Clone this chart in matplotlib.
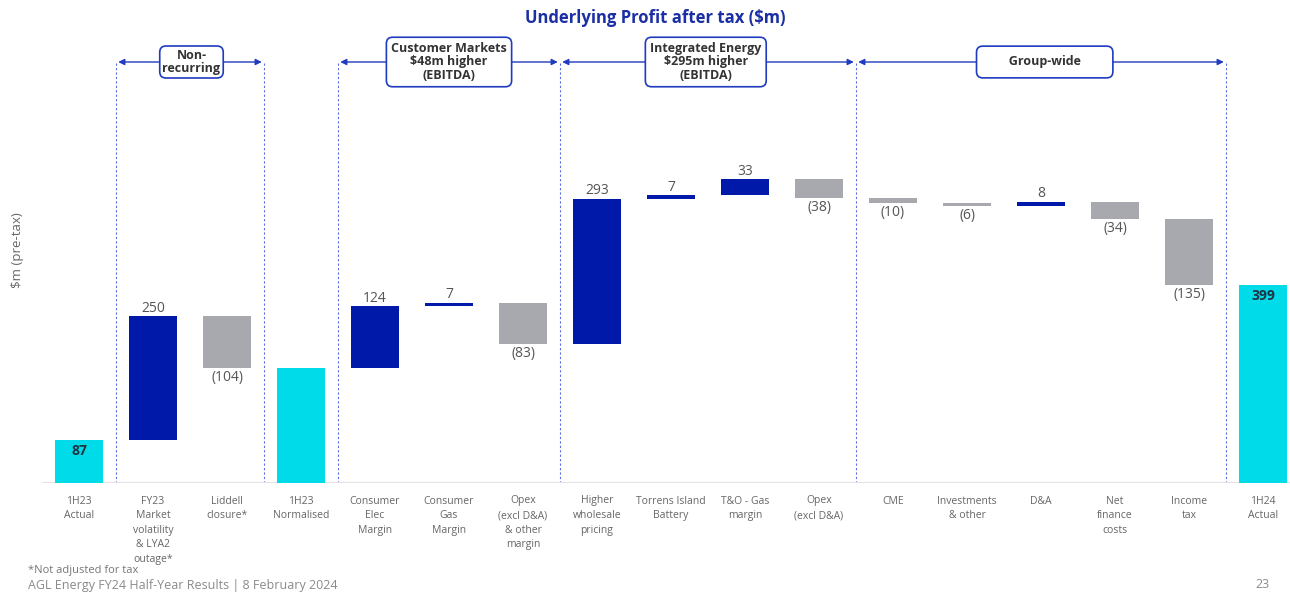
import matplotlib
matplotlib.use("Agg")
import matplotlib.pyplot as plt
import numpy as np

plt.rcParams['font.family'] = ['Open Sans', 'DejaVu Sans']

categories = ["1H23\nActual", "FY23\nMarket\nvolatility\n& LYA2\noutage*", "Liddell\nclosure*",
              "1H23\nNormalised", "Consumer\nElec\nMargin", "Consumer\nGas\nMargin",
              "Opex\n(excl D&A)\n& other\nmargin", "Higher\nwholesale\npricing",
              "Torrens Island\nBattery", "T&O - Gas\nmargin", "Opex\n(excl D&A)", "CME",
              "Investments\n& other", "D&A", "Net\nfinance\ncosts", "Income\ntax", "1H24\nActual"]
values = [87, 250, -104, 233, 124, 7, -83, 293, 7, 33, -38, -10, -6, 8, -34, -135, 399]
kinds = ["total", "delta", "delta", "total", "delta", "delta", "delta", "delta", "delta",
         "delta", "delta", "delta", "delta", "delta", "delta", "delta", "total"]
value_labels = ["87", "250", "(104)", "", "124", "7", "(83)", "293", "7", "33", "(38)",
                "(10)", "(6)", "8", "(34)", "(135)", "399"]
# groups: (index after which left divider sits, index after which right divider sits, text)
groups = [(0, 2, "Non-\nrecurring"),
          (3, 6, "Customer Markets\n$48m higher\n(EBITDA)"),
          (6, 10, "Integrated Energy\n$295m higher\n(EBITDA)"),
          (10, 15, "Group-wide")]
dividers = [0, 2, 3, 6, 10, 15]

CYAN = "#00dbe9"
BLUE = "#0019a9"
GRAY = "#a7a9ae"
LINE_BLUE = "#1f3bbf"

W, H = 1290, 594
fig = plt.figure(figsize=(W / 100, H / 100), dpi=100)
px_per_unit = 0.495
base_px = 483
top_px = 40
left_px, right_px = 42, 1290
ax = fig.add_axes([left_px / W, 1 - base_px / H, (right_px - left_px) / W, (base_px - top_px) / H])
ymax = (base_px - top_px) / px_per_unit
ax.set_ylim(0, ymax)
xmin = (left_px - 79) / 74
xmax = (right_px - 79) / 74
ax.set_xlim(xmin, xmax)

# waterfall computation
bottoms, heights, colors = [], [], []
running = 0
for v, k in zip(values, kinds):
    if k == "total":
        bottoms.append(0)
        heights.append(v)
        colors.append(CYAN)
        running = v
    else:
        if v >= 0:
            bottoms.append(running)
            heights.append(v)
            colors.append(BLUE)
        else:
            bottoms.append(running + v)
            heights.append(-v)
            colors.append(GRAY)
        running += v

x = np.arange(len(categories))
ax.bar(x, heights, bottom=bottoms, width=0.66, color=colors, zorder=3)

for i, (v, k, lab) in enumerate(zip(values, kinds, value_labels)):
    if not lab:
        continue
    if k == "total":
        ax.text(i, bottoms[i] + heights[i] - 8, lab, ha="center", va="top", fontsize=10,
                fontweight="bold", color="#1c3443", zorder=4)
    elif v >= 0:
        ax.text(i, bottoms[i] + heights[i] + 1, lab, ha="center", va="bottom", fontsize=10,
                color="#555555", zorder=4)
    else:
        ax.text(i, bottoms[i] - 4, lab, ha="center", va="top", fontsize=10,
                color="#555555", zorder=4)

# dividers
arrow_y = (base_px - 62) / px_per_unit
for d in dividers:
    ax.plot([d + 0.5, d + 0.5], [0, arrow_y], linestyle=(0, (2, 2)), color="#5a6fe0",
            lw=0.8, zorder=1)

box_pads = [0.22, 0.38, 0.38, 0.75]
box_text_pad = ["", "", "", "       "]
box_dx = [0.02, 0.0, -0.03, 0.05]
for (a, b, txt), pad, sp, dx in zip(groups, box_pads, box_text_pad, box_dx):
    xa, xb = a + 0.5, b + 0.5
    ax.annotate("", xy=(xa + 0.03, arrow_y), xytext=(xb - 0.03, arrow_y),
                arrowprops=dict(arrowstyle="<|-|>", color=LINE_BLUE, lw=1.0,
                                mutation_scale=9, shrinkA=0, shrinkB=0))
    ax.text((xa + xb) / 2 + dx, arrow_y, sp + txt + sp, ha="center", va="center", fontsize=9,
            fontweight="bold", color="#333333", linespacing=1.05, zorder=5,
            bbox=dict(boxstyle=f"round,pad={pad},rounding_size=0.5", fc="white",
                      ec=LINE_BLUE, lw=1.2))

# baseline
ax.axhline(0, color="#e4e4e4", lw=1.5, zorder=2)
for s in ax.spines.values():
    s.set_visible(False)
ax.set_yticks([])
ax.set_xticks(x)
ax.set_xticklabels(categories, fontsize=7.5, color="#666666", linespacing=1.45)
ax.tick_params(axis="x", length=0, pad=9)

fig.text(655 / W, 1 - 18 / H, "Underlying Profit after tax ($m)", ha="center", va="center",
         fontsize=12, fontweight="bold", color="#1b2ea3")
fig.text(18 / W, 1 - 250 / H, "$m (pre-tax)", rotation=90, ha="center", va="center",
         fontsize=9.5, color="#666666")
fig.text(28 / W, 1 - 570 / H, "*Not adjusted for tax", ha="left", va="center",
         fontsize=8, color="#777777")
fig.text(28 / W, 1 - 585 / H, "AGL Energy FY24 Half-Year Results | 8 February 2024",
         ha="left", va="center", fontsize=9, color="#8a8a8a")
fig.text(1263 / W, 1 - 585 / H, "23", ha="center", va="center", fontsize=9, color="#8a8a8a")

fig.savefig("out.png", dpi=100)
